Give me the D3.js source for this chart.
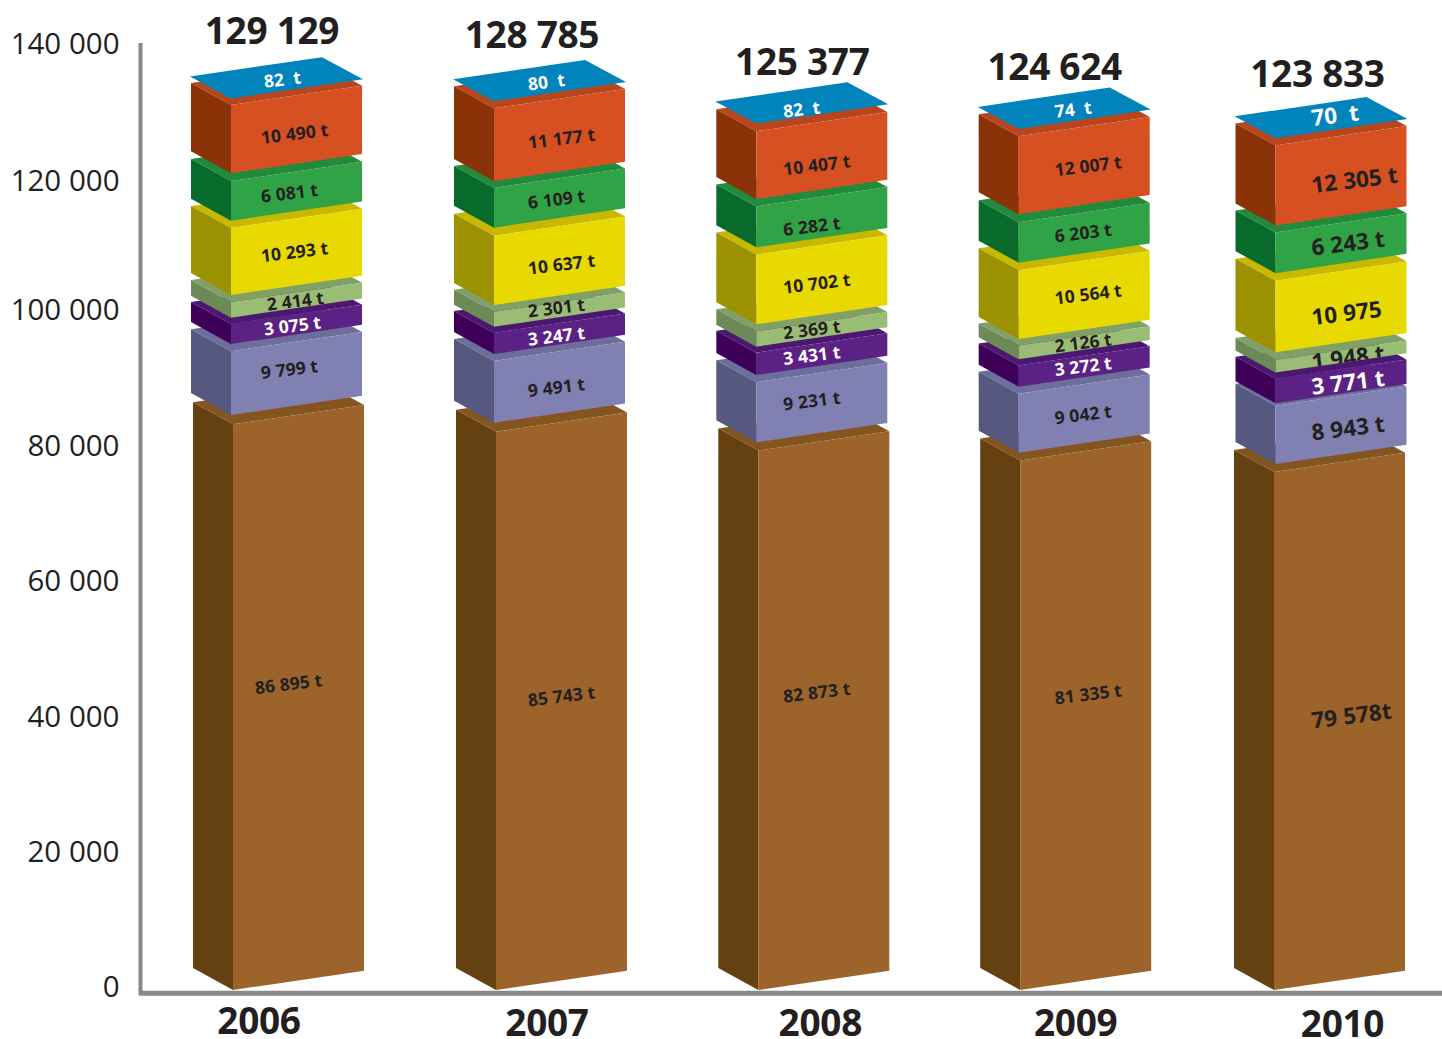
<!DOCTYPE html>
<html><head><meta charset="utf-8">
<script src="https://cdnjs.cloudflare.com/ajax/libs/d3/7.8.5/d3.min.js"></script>
<style>html,body{margin:0;padding:0;background:#fff}svg{display:block}text{font-family:"Open Sans",sans-serif;fill:#231f20}</style>
</head><body><svg id="c" width="1442" height="1039"></svg>
<script>
const years=[2006,2007,2008,2009,2010];
const totals=["129 129","128 785","125 377","124 624","123 833"];
const categories=["wood","periwinkle","purple","sage","yellow","green","orange","blue"];
const wood=[86895,85743,82873,81335,79578];
const periwinkle=[9799,9491,9231,9042,8943];
const purple=[3075,3247,3431,3272,3771];
const sage=[2414,2301,2369,2126,1948];
const yellow=[10293,10637,10702,10564,10975];
const green=[6081,6109,6282,6203,6243];
const orange=[10490,11177,10407,12007,12305];
const blue=[82,80,82,74,70];
const series=[wood,periwinkle,purple,sage,yellow,green,orange,blue];
const axisTicks=[0,20000,40000,60000,80000,100000,120000,140000];

// styling / layout (not data)
const tickRange=[987.5,852,717,581,446,310.5,181,44.5];
const front=["#9c632b","#8080b2","#5b2184","#99bd74","#e8d900","#30a347","#d65022","#0084bb"];
const side =["#654011","#575880","#3e0059","#6b8a58","#9c9100","#086b2b","#8c3209","#0084bb"];
const top_ =["#855520","#6c6e9b","#4b1770","#80a068","#c8b800","#218a3d","#b9451c","#0084bb"];
const barLeft=[191,454,716.3,978.7,1235.5];
const woodShift=[2,2,2,1.5,-1.5];
const labelStart=[70,74,67,76,76];
const labelPx=[17.5,17.5,17.5,17.5,22.5];
const labelAdjust=[
 [-19,-9,-3,-3,-4,-3,0,-2],
 [-9,1,-2,-6,0,-3,0,-2],
 [-23,-7,-4,-5,-1,4,5,2],
 [-25,-3,-4,-4,-4,-4,-3,-2],
 [-8,0,-2,-2,3,-3,2,-5]];
const woodLabelStartShift=[-6,0,0,0,0];
const totalShift=[81,78,86,76,82];
const totalLift=[68,66.7,62,62.3,65];
const yearShift=[68,93,104,97,107];
const yearY=[1021,1023,1023,1023,1024];
const gaps=[
 [9.3,7.2,6.3,7,7.3,7.8,6],
 [9.1,6.9,6.2,6.7,8.1,6.9,6.5],
 [8.2,7.2,6,7,7.3,7.4,7.2],
 [7.8,7.1,6.1,6.5,7.5,8,6.8],
 [8,2.5,6.1,7.7,7.6,7,6.6]];
const W=131,DX=40,DY=22,SK=19.3,slope=SK/W;

const svg=d3.select("#c");
const fmt=v=>d3.format(",")(v).replace(/,/g," ");
const yAxis=d3.scaleLinear().domain(axisTicks).range(tickRange);
const markY=d3.scaleLinear().domain([0,140000]).range([990,990-140000*0.00651]);
const x=d3.scaleOrdinal().domain(years).range(barLeft);
const hh=v=>markY(0)-markY(v);

const clipDefs=svg.append("defs");
const pts=a=>a.map(p=>p.join(",")).join(" ");
years.forEach((yr,yi)=>{
  const g=svg.append("g");
  let cur=markY(0);
  const labels=[];
  series.forEach((s,si)=>{
    const v=s[yi];
    const isBlue=si===7;
    const x0=x(yr)+(si===0?woodShift[yi]:0);
    const fl=x0+DX;
    const bottom=cur;
    const topY=bottom-hh(v);
    if(!isBlue){
      g.append("polygon").attr("points",pts([[x0,topY-DY],[fl,topY],[fl+W,topY-SK],[fl+W-DX,topY-SK-DY]])).attr("fill",top_[si]);
      g.append("polygon").attr("points",pts([[x0,bottom-DY],[fl,bottom],[fl,topY],[x0,topY-DY]])).attr("fill",side[si]);
      g.append("polygon").attr("points",pts([[fl,bottom],[fl+W,bottom-SK],[fl+W,topY-SK],[fl,topY]])).attr("fill",front[si]);
    } else {
      g.append("polygon").attr("points",pts([[x0-1,topY-DY],[fl,topY],[fl+W+1,topY-SK],[fl+W-DX,topY-SK-DY]])).attr("fill",front[si]);
    }
    labels.push({si,v,x0,fl,bottom,topY});
    if(si<7) cur=topY-gaps[yi][si];
  });
  labels.forEach(l=>{
    const px=labelPx[yi];
    const sx=x(yr)+labelStart[yi]+(l.si===0?woodLabelStartShift[yi]:0)+(l.si===3&&yi===0?6:0)+(l.si===2&&yi===0?3:0)+(l.si===7&&yi===0?3:0);
    let mid=(l.bottom+l.topY)/2;
    if(l.si===7) mid=l.topY-13;
    let ly=mid-(sx-l.fl)*slope+3+labelAdjust[yi][l.si];
    let txt=fmt(l.v)+" t";
    if(l.si===7) txt=fmt(l.v)+"\u00a0 t";
    if(l.si===4&&yi===4) txt=fmt(l.v);
    if(l.si===0&&yi===4) txt=fmt(l.v)+"t";
    const t=g.append("text").attr("transform",`translate(${sx},${ly}) rotate(-7)`)
      .attr("dy","0.36em").attr("font-size",px).attr("font-weight",700).attr("letter-spacing",0.1)
      .style("fill",(l.si===2||l.si===7)?"#fff":"#231f20").text(txt);
    if(l.si===3){
      const id="clip"+yr;
      clipDefs.append("clipPath").attr("id",id).append("polygon").attr("points",pts([[l.fl,l.bottom],[l.fl+W,l.bottom-SK],[l.fl+W,l.topY-SK-10],[l.fl,l.topY-10]]));
      const wrap=g.append("g").attr("clip-path",`url(#${id})`);
      wrap.node().appendChild(t.node());
    }
  });
  const stackTop=labels[7].topY;
  svg.append("text").attr("x",x(yr)+totalShift[yi]).attr("y",stackTop-totalLift[yi]).attr("dy","0.36em")
    .attr("text-anchor","middle").attr("font-size",37).attr("font-weight",700).attr("letter-spacing",-0.3).text(totals[yi]);
  svg.append("text").attr("x",x(yr)+yearShift[yi]).attr("y",yearY[yi]).attr("dy","0.36em")
    .attr("text-anchor","middle").attr("font-size",37).attr("font-weight",700).attr("letter-spacing",-0.3).text(yr);
});

const ax=svg.append("g").attr("transform","translate(119.5,0)").call(d3.axisLeft(yAxis).tickValues(axisTicks).tickSize(0).tickPadding(0).tickFormat(fmt));
ax.select(".domain").remove();
ax.selectAll("text").attr("font-size",29.5).attr("font-family",'"Open Sans",sans-serif').style("fill","#231f20");
svg.append("line").attr("x1",140.5).attr("x2",140.5).attr("y1",43).attr("y2",995).attr("stroke","#87888c").attr("stroke-width",4);
svg.append("line").attr("x1",139).attr("x2",1442).attr("y1",993.2).attr("y2",993.2).attr("stroke","#87888c").attr("stroke-width",5);
</script></body></html>
